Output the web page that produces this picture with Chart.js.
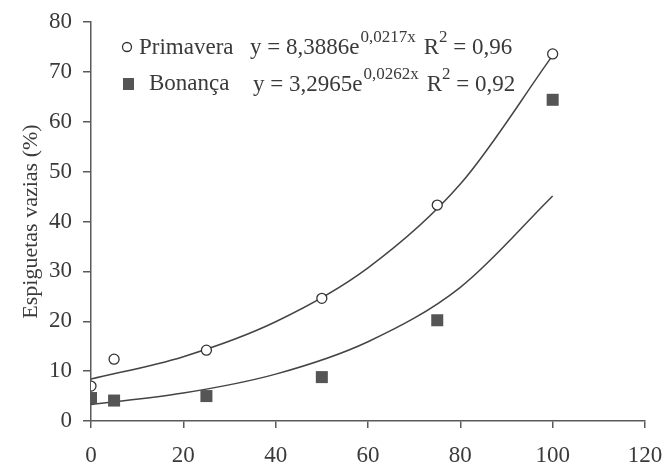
<!DOCTYPE html>
<html>
<head>
<meta charset="utf-8">
<script src="https://cdn.jsdelivr.net/npm/chart.js@4/dist/chart.umd.min.js"></script>
<style>
  html, body { margin: 0; padding: 0; background: #fff; }
  #wrap { width: 664px; height: 468px; }
</style>
</head>
<body>
<div id="wrap"><canvas id="chart" width="664" height="468"></canvas></div>
<script>
// dados observados
const doses = [0, 5, 25, 50, 75, 100];
const primavera = [7.0, 12.4, 14.2, 24.6, 43.3, 73.6];
const bonanca = [4.6, 4.1, 5.0, 8.8, 20.2, 64.4];

// linhas de tendencia
const curvaX = [0, 20, 40, 60, 80, 100];
const curvaPrimavera = [8.4, 12.9, 19.9, 30.7, 47.5, 73.3];
const curvaBonanca = [3.3, 5.6, 9.4, 15.9, 26.8, 45.1];

const xTicks = [0, 20, 40, 60, 80, 100, 120];
const yTicks = [0, 10, 20, 30, 40, 50, 60, 70, 80];

const serif = "'Liberation Serif', 'Times New Roman', serif";
const txt = "#3a3a3a";
const eixo = "#5a5a5a";

const pts = (xs, ys) => xs.map((x, i) => ({ x, y: ys[i] }));

// legenda com expoentes
const legendaPlugin = {
  id: "legenda",
  afterDraw(chart) {
    const ctx = chart.ctx;
    const run = (x, y, parts) => {
      parts.forEach(p => {
        ctx.font = (p.sup ? "17px " : "23px ") + serif;
        ctx.fillText(p.t, x, p.sup ? y - 12 : y);
        x += ctx.measureText(p.t).width + (p.gap || 0);
      });
    };
    ctx.save();
    ctx.fillStyle = txt;
    ctx.textBaseline = "alphabetic";
    // marcador Primavera
    ctx.strokeStyle = "#333"; ctx.lineWidth = 1.3;
    ctx.beginPath(); ctx.arc(127, 47, 4.5, 0, Math.PI * 2); ctx.stroke();
    run(139, 54, [{ t: "Primavera" }]);
    run(250, 54, [{ t: "y = 8,3886e", gap: 1 }, { t: "0,0217x", sup: true, gap: 8 }, { t: "R" }, { t: "2", sup: true }, { t: " = 0,96" }]);
    // marcador Bonança
    ctx.fillStyle = "#555";
    ctx.fillRect(123, 78, 11, 12);
    ctx.fillStyle = txt;
    run(149, 90, [{ t: "Bonança" }]);
    run(253, 91, [{ t: "y = 3,2965e", gap: 1 }, { t: "0,0262x", sup: true, gap: 8 }, { t: "R" }, { t: "2", sup: true }, { t: " = 0,92" }]);
    ctx.restore();
  }
};

new Chart(document.getElementById("chart").getContext("2d"), {
  type: "scatter",
  data: {
    datasets: [
      { label: "Primavera", data: pts(doses, primavera), pointStyle: "circle", pointRadius: 5, borderColor: "#333", backgroundColor: "#fff", borderWidth: 1.3, order: 1 },
      { label: "Bonança", data: pts(doses, bonanca), pointStyle: "rect", pointRadius: 8.5, borderColor: "#555", backgroundColor: "#555", borderWidth: 0, order: 1 },
      { label: "tend. Primavera", data: pts(curvaX, curvaPrimavera), showLine: true, pointRadius: 0, borderColor: "#444", borderWidth: 1.5, cubicInterpolationMode: "monotone", order: 2 },
      { label: "tend. Bonança", data: pts(curvaX, curvaBonanca), showLine: true, pointRadius: 0, borderColor: "#444", borderWidth: 1.5, cubicInterpolationMode: "monotone", order: 2 }
    ]
  },
  options: {
    responsive: false,
    animation: false,
    layout: { padding: { left: 18, right: 19, top: 22, bottom: 0 } },
    plugins: { legend: { display: false }, tooltip: { enabled: false } },
    scales: {
      x: {
        type: "linear", min: 0, max: 120,
        afterBuildTicks: s => { s.ticks = xTicks.map(v => ({ value: v })); },
        afterFit: s => { s.height = 47; s.paddingLeft = 0; s.paddingRight = 0; },
        ticks: { color: txt, font: { family: serif, size: 23 }, padding: 14 },
        grid: { drawOnChartArea: false, drawTicks: true, tickLength: 7, color: eixo, lineWidth: 1.5 },
        border: { color: eixo, width: 1.5 }
      },
      y: {
        min: 0, max: 80,
        afterBuildTicks: s => { s.ticks = yTicks.map(v => ({ value: v })); },
        afterFit: s => { s.width = 73; s.paddingTop = 0; s.paddingBottom = 0; },
        ticks: { color: txt, font: { family: serif, size: 23 }, padding: 11 },
        grid: { drawOnChartArea: false, drawTicks: true, tickLength: 8, color: eixo, lineWidth: 1.5 },
        border: { color: eixo, width: 1.5 },
        title: { display: true, text: "Espiguetas vazias (%)", color: txt, font: { family: serif, size: 22 }, padding: { top: 0, bottom: 0 } }
      }
    }
  },
  plugins: [legendaPlugin]
});
</script>
</body>
</html>
